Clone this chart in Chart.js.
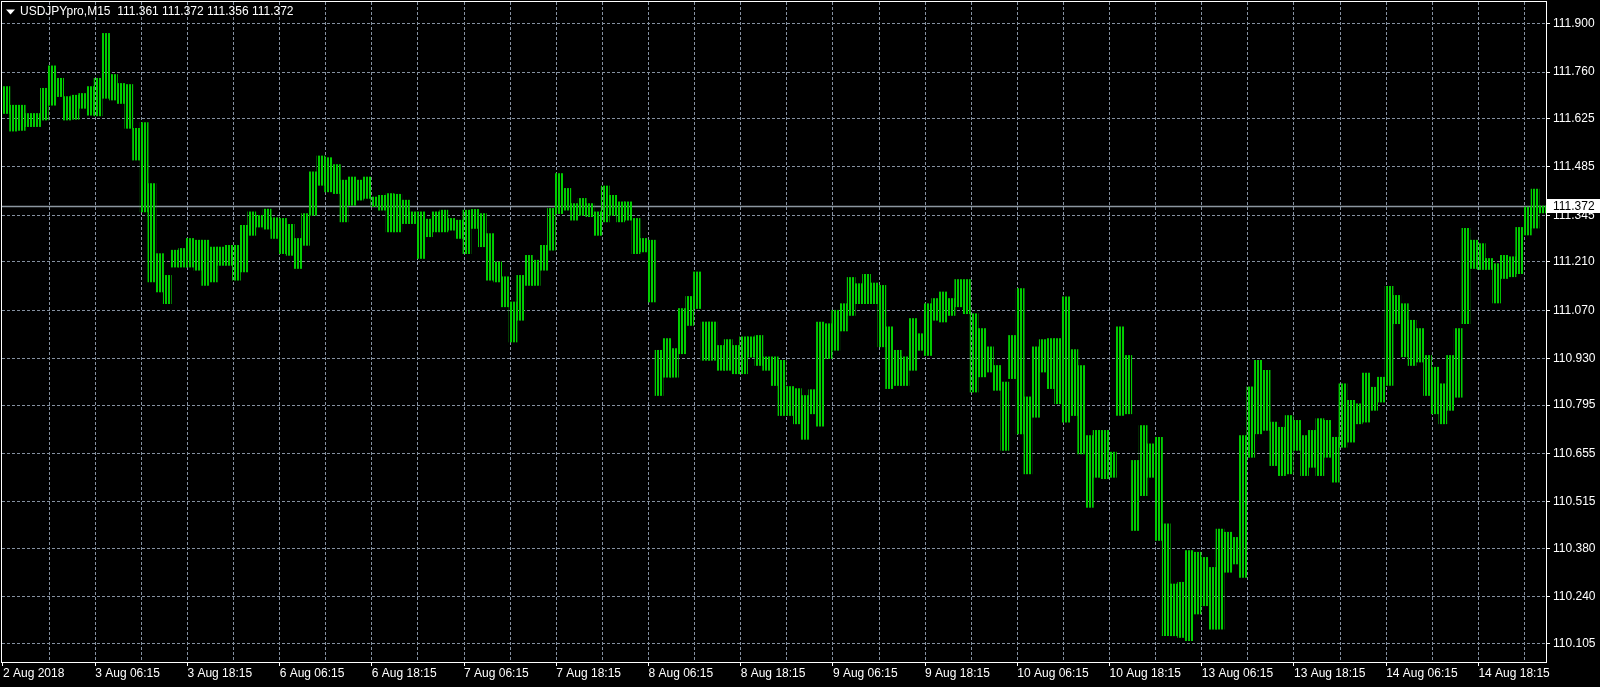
<!DOCTYPE html>
<html>
<head>
<meta charset="utf-8">
<title>USDJPYpro,M15</title>
<script src="https://cdn.jsdelivr.net/npm/chart.js@4.4.1/dist/chart.umd.min.js"></script>
<style>
  html, body { margin: 0; padding: 0; background: #000; overflow: hidden; }
  #wrap { width: 1600px; height: 687px; }
</style>
</head>
<body>
<div id="wrap"><canvas id="priceChart" width="1600" height="687"></canvas></div>
<script>
// header info
const symbol = 'USDJPYpro,M15';
const lastBar = [111.361, 111.372, 111.356, 111.372]; // open, high, low, close

// time axis: one label every 48 M15 bars, grid every 24
const barsPerHour = 4;
const barsPerLabel = 48;
const barsPerGrid = 24;
const timeLabels = ['2 Aug 2018', '3 Aug 06:15', '3 Aug 18:15', '6 Aug 06:15', '6 Aug 18:15',
  '7 Aug 06:15', '7 Aug 18:15', '8 Aug 06:15', '8 Aug 18:15', '9 Aug 06:15', '9 Aug 18:15',
  '10 Aug 06:15', '10 Aug 18:15', '13 Aug 06:15', '13 Aug 18:15', '14 Aug 06:15', '14 Aug 18:15'];

// price axis labels
const priceTicks = [110.105, 110.240, 110.380, 110.515, 110.655, 110.795, 110.930,
  111.070, 111.210, 111.345, 111.485, 111.625, 111.760, 111.900];

// hourly high / low (each covers 4 M15 bars)
const hourHigh = [
  111.718, 111.664, 111.664, 111.640, 111.640, 111.713, 111.778, 111.742, 111.689, 111.693,
  111.698, 111.718, 111.742, 111.872, 111.753, 111.727, 111.724, 111.597, 111.614, 111.437,
  111.234, 111.171, 111.244, 111.249, 111.278, 111.273, 111.273, 111.253, 111.253, 111.258,
  111.258, 111.316, 111.355, 111.345, 111.363, 111.338, 111.336, 111.319, 111.278, 111.350,
  111.471, 111.517, 111.512, 111.492, 111.447, 111.456, 111.447, 111.456, 111.398, 111.403,
  111.408, 111.406, 111.389, 111.355, 111.355, 111.334, 111.355, 111.360, 111.336, 111.331,
  111.360, 111.362, 111.350, 111.292, 111.210, 111.167, 111.094, 111.171, 111.229, 111.215,
  111.258, 111.365, 111.466, 111.423, 111.379, 111.394, 111.379, 111.355, 111.430, 111.403,
  111.384, 111.384, 111.336, 111.278, 111.273, 110.954, 110.988, 110.959, 111.075, 111.110,
  111.181, 111.036, 111.036, 110.968, 110.985, 110.968, 110.993, 110.993, 110.997, 110.935,
  110.935, 110.925, 110.849, 110.843, 110.823, 110.840, 111.036, 111.031, 111.070, 111.089,
  111.165, 111.147, 111.174, 111.149, 111.142, 111.022, 110.954, 110.935, 111.046, 111.002,
  111.089, 111.104, 111.123, 111.104, 111.159, 111.159, 111.060, 111.017, 110.964, 110.910,
  110.862, 110.997, 111.133, 110.819, 110.964, 110.985, 110.988, 110.988, 111.109, 110.956,
  110.910, 110.707, 110.722, 110.722, 110.659, 111.022, 110.939, 110.635, 110.736, 110.683,
  110.702, 110.451, 110.277, 110.282, 110.374, 110.369, 110.354, 110.325, 110.436, 110.427,
  110.412, 110.707, 110.848, 110.925, 110.896, 110.746, 110.731, 110.765, 110.751, 110.707,
  110.722, 110.756, 110.751, 110.702, 110.857, 110.809, 110.799, 110.888, 110.847, 110.876,
  111.139, 111.113, 111.089, 111.041, 111.017, 110.939, 110.905, 110.857, 110.939, 111.017,
  111.307, 111.273, 111.263, 111.220, 111.205, 111.229, 111.225, 111.310, 111.369, 111.421,
  111.372
];
const hourLow = [
  111.640, 111.589, 111.591, 111.602, 111.602, 111.621, 111.664, 111.689, 111.621, 111.623,
  111.655, 111.635, 111.633, 111.684, 111.679, 111.669, 111.597, 111.505, 111.355, 111.152,
  111.123, 111.089, 111.195, 111.195, 111.195, 111.186, 111.142, 111.152, 111.200, 111.200,
  111.157, 111.181, 111.287, 111.311, 111.305, 111.278, 111.234, 111.229, 111.191, 111.258,
  111.345, 111.432, 111.413, 111.408, 111.326, 111.374, 111.389, 111.394, 111.370, 111.360,
  111.297, 111.297, 111.321, 111.321, 111.220, 111.283, 111.297, 111.297, 111.302, 111.278,
  111.234, 111.307, 111.254, 111.157, 111.152, 111.080, 110.978, 111.041, 111.142, 111.142,
  111.186, 111.244, 111.350, 111.360, 111.331, 111.345, 111.341, 111.287, 111.326, 111.345,
  111.326, 111.331, 111.234, 111.239, 111.094, 110.823, 110.876, 110.876, 110.944, 111.026,
  111.075, 110.925, 110.925, 110.896, 110.896, 110.886, 110.886, 110.934, 110.910, 110.896,
  110.852, 110.765, 110.765, 110.741, 110.696, 110.770, 110.734, 110.930, 110.954, 111.010,
  111.055, 111.089, 111.089, 111.089, 110.964, 110.843, 110.852, 110.852, 110.896, 110.954,
  110.939, 111.041, 111.036, 111.055, 111.080, 111.060, 110.833, 110.877, 110.891, 110.838,
  110.664, 110.872, 110.712, 110.596, 110.760, 110.891, 110.843, 110.799, 110.746, 110.765,
  110.654, 110.499, 110.586, 110.582, 110.586, 110.765, 110.770, 110.432, 110.533, 110.586,
  110.403, 110.127, 110.127, 110.122, 110.113, 110.190, 110.214, 110.146, 110.146, 110.311,
  110.335, 110.296, 110.644, 110.712, 110.722, 110.620, 110.591, 110.596, 110.664, 110.591,
  110.615, 110.591, 110.644, 110.572, 110.673, 110.688, 110.741, 110.746, 110.780, 110.804,
  110.852, 111.031, 110.935, 110.910, 110.920, 110.823, 110.770, 110.741, 110.780, 110.818,
  111.031, 111.191, 111.188, 111.188, 111.091, 111.162, 111.167, 111.176, 111.288, 111.308,
  111.352
];

const gridColor = '#8591a0';
const barColor = '#00cc00';
const textColor = '#ffffff';

const hourBars = hourHigh.map((h, j) => ({ x: j * barsPerHour + 1.5, y: [hourLow[j], h] }));
const gridBars = [];
for (let b = 0; b <= 792; b += barsPerGrid) gridBars.push(b);

// vertical stripes so each hour reads like a run of thin M15 bars
function stripeFill(color) {
  const tile = document.createElement('canvas');
  tile.width = 3;
  tile.height = 1;
  const t = tile.getContext('2d');
  t.fillStyle = color;
  t.fillRect(0, 0, 2, 1);
  return document.getElementById('priceChart').getContext('2d').createPattern(tile, 'repeat');
}

Chart.defaults.font.family = "'Liberation Sans', Arial, sans-serif";
Chart.defaults.font.size = 12;
Chart.defaults.color = textColor;

// drop the label overhang padding Chart.js adds around each axis
function noOverhang(s) {
  s.paddingTop = 0;
  s.paddingBottom = 0;
  s.paddingLeft = 0;
  s.paddingRight = 0;
}

// black background, white frame, header, bid line and price tag
const terminalLook = {
  id: 'terminalLook',
  beforeDraw(chart) {
    const c = chart.ctx;
    c.save();
    c.fillStyle = '#000';
    c.fillRect(0, 0, chart.width, chart.height);
    c.restore();
  },
  beforeDatasetsDraw(chart) {
    const c = chart.ctx, a = chart.chartArea;
    const py = Math.round(chart.scales.y.getPixelForValue(lastBar[3])) + 0.5;
    c.save();
    c.strokeStyle = '#8c96a0';
    c.lineWidth = 1.5;
    c.beginPath();
    c.moveTo(a.left, py);
    c.lineTo(a.right, py);
    c.stroke();
    c.restore();
  },
  afterDraw(chart) {
    const c = chart.ctx, a = chart.chartArea;
    c.save();
    // frame
    c.strokeStyle = '#ffffff';
    c.lineWidth = 1;
    c.strokeRect(a.left - 0.5, a.top - 0.5, a.right - a.left + 1, a.bottom - a.top + 1);
    // header
    c.fillStyle = '#ffffff';
    c.beginPath();
    c.moveTo(6, 9.5);
    c.lineTo(15, 9.5);
    c.lineTo(10.5, 14.5);
    c.closePath();
    c.fill();
    c.font = "12px 'Liberation Sans', Arial, sans-serif";
    c.textBaseline = 'middle';
    c.textAlign = 'left';
    c.fillText(symbol + '  ' + lastBar.map(v => v.toFixed(3)).join(' '), 20, 12);
    // price tag
    const py = Math.round(chart.scales.y.getPixelForValue(lastBar[3]));
    c.fillStyle = '#ffffff';
    c.fillRect(a.right + 1, py - 7, chart.width - a.right - 1, 14);
    c.fillStyle = '#000000';
    c.fillText(lastBar[3].toFixed(3), a.right + 7, py + 0.5);
    c.restore();
  }
};

new Chart(document.getElementById('priceChart').getContext('2d'), {
  type: 'bar',
  data: {
    datasets: [{
      label: symbol,
      data: hourBars,
      backgroundColor: stripeFill(barColor),
      borderWidth: 0,
      borderSkipped: false,
      barThickness: 8
    }]
  },
  options: {
    responsive: false,
    devicePixelRatio: 1,
    animation: false,
    events: [],
    layout: { padding: { left: 2, top: 2, right: 0, bottom: 0 } },
    plugins: {
      legend: { display: false },
      tooltip: { enabled: false },
      title: { display: false }
    },
    scales: {
      x: {
        type: 'linear',
        offset: false,
        min: -0.52,
        max: 803.2,
        afterBuildTicks: s => { s.ticks = gridBars.map(v => ({ value: v })); },
        afterFit: s => { s.height = 25; noOverhang(s); },
        ticks: {
          autoSkip: false,
          maxRotation: 0,
          minRotation: 0,
          align: 'start',
          padding: 0,
          color: textColor,
          callback: v => (v % barsPerLabel === 0 ? timeLabels[v / barsPerLabel] : '')
        },
        grid: {
          offset: false,
          color: c => (c.tick && c.tick.value === 0 ? 'rgba(0,0,0,0)' : gridColor),
          tickLength: 4,
          tickColor: c => (c.tick && c.tick.value % barsPerLabel === 0 ? '#ffffff' : 'rgba(0,0,0,0)')
        },
        border: { display: false, dash: [3, 2] }
      },
      y: {
        position: 'right',
        min: 110.051,
        max: 111.963,
        afterBuildTicks: s => { s.ticks = priceTicks.map(v => ({ value: v })); },
        afterFit: s => { s.width = 54; noOverhang(s); },
        ticks: {
          autoSkip: false,
          padding: 3,
          color: textColor,
          callback: v => v.toFixed(3)
        },
        grid: { color: gridColor, tickLength: 4, tickColor: '#ffffff' },
        border: { display: false, dash: [3, 2] }
      }
    }
  },
  plugins: [terminalLook]
});
</script>
</body>
</html>
